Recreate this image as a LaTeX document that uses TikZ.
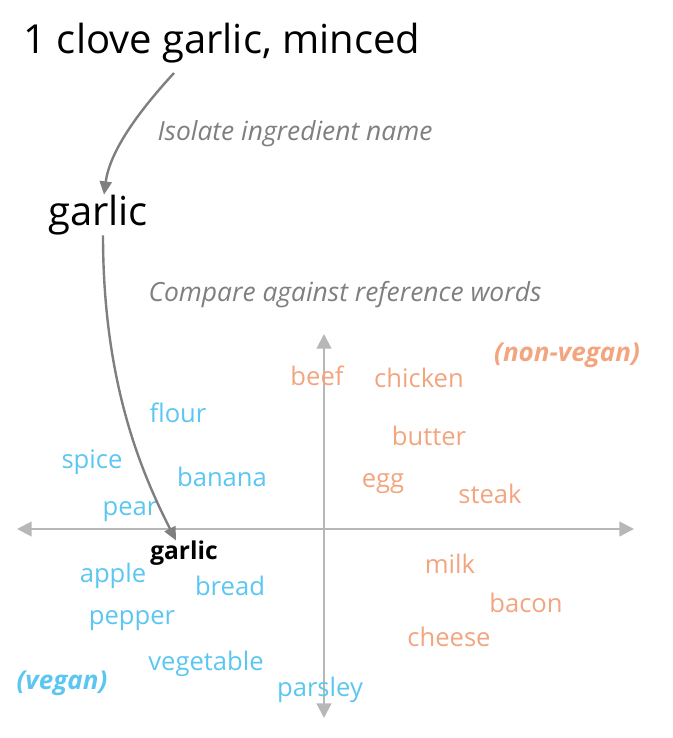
\documentclass[tikz,border=0pt]{standalone}
\usepackage{fontspec}
\setmainfont{Open Sans}
\usepackage{tikz}
\usetikzlibrary{arrows.meta, positioning}
\definecolor{vgBlue}{HTML}{5BC7F1}
\definecolor{vgOrange}{HTML}{F2A57E}
\definecolor{vgGrey}{HTML}{7F7F7F}
\definecolor{vgAxis}{HTML}{B7B7B7}

\begin{document}
\begin{tikzpicture}[
  x=0.75pt, y=-0.75pt,
  big/.style={font=\fontsize{30}{36}\selectfont, inner sep=0pt},
  note/.style={font=\fontsize{19.8}{24}\selectfont\itshape, text=vgGrey, inner sep=0pt},
  veg/.style={font=\fontsize{19.2}{23}\selectfont, text=vgBlue, inner sep=0pt},
  meat/.style={font=\fontsize{19.2}{23}\selectfont, text=vgOrange, inner sep=0pt},
  tag/.style={font=\fontsize{19.5}{23}\selectfont\bfseries\itshape},
  axis/.style={draw=vgAxis, line width=1.6pt, {Triangle[length=11pt, width=11pt]}-{Triangle[length=11pt, width=11pt]}},
  flow/.style={draw=vgGrey, line width=1.8pt, -{Triangle[length=10pt, width=9pt]}},
]
\useasboundingbox (0,0) rectangle (672,738);

% ---------------- Ingredient text ----------------
\node[big] (line) at (222,43) {1 clove garlic, minced};
\node[big] (name) at (98,215) {garlic};
\node[note] (isolate) at (295,134) {Isolate ingredient name};
\node[note] (compare) at (345,295) {Compare against reference words};

% ---------------- Axes ----------------
\coordinate (xl) at (17,529);
\coordinate (xr) at (634,529);
\coordinate (yt) at (324,334);
\coordinate (yb) at (324,718);
\draw[axis] (xl) -- (xr);
\draw[axis] (yt) -- (yb);

% ---------------- Reference words: vegan ----------------
\node[veg] (flour)  at (178,413) {flour};
\node[veg] (spice)  at (92,462)  {spice};
\node[veg] (banana) at (222,477) {banana};
\node[veg] (pear)   at (130,512) {pear};
\node[veg] (apple)  at (113,576) {apple};
\node[veg] (bread)  at (230,586) {bread};
\node[veg] (pepper) at (132,621) {pepper};
\node[veg] (vegetable) at (206,664) {vegetable};
\node[veg] (parsley) at (320,690) {parsley};
\node[veg, tag] (vegan) at (62,683) {(vegan)};

% ---------------- Reference words: non-vegan ----------------
\node[meat] (beef)    at (317,376) {beef};
\node[meat] (chicken) at (419,378) {chicken};
\node[meat] (butter)  at (429,436) {butter};
\node[meat] (egg)     at (383,484) {egg};
\node[meat] (steak)   at (490,494) {steak};
\node[meat] (milk)    at (450,564) {milk};
\node[meat] (bacon)   at (526,603) {bacon};
\node[meat] (cheese)  at (449,637) {cheese};
\node[meat, tag] (nonvegan) at (567,355) {(non-vegan)};

% ---------------- Placed word ----------------
\node[font=\fontsize{18.4}{22}\selectfont\bfseries, inner sep=0pt] (hit) at (184,553) {garlic};

% ---------------- Flow ----------------
\draw[flow] (174,73) .. controls (140,110) and (110,150) .. (name.north -| 104,186);
\draw[flow] (name.south -| 103,248) .. controls (103,380) and (140,470) .. (hit.north -| 176,525);
\end{tikzpicture}
\end{document}
